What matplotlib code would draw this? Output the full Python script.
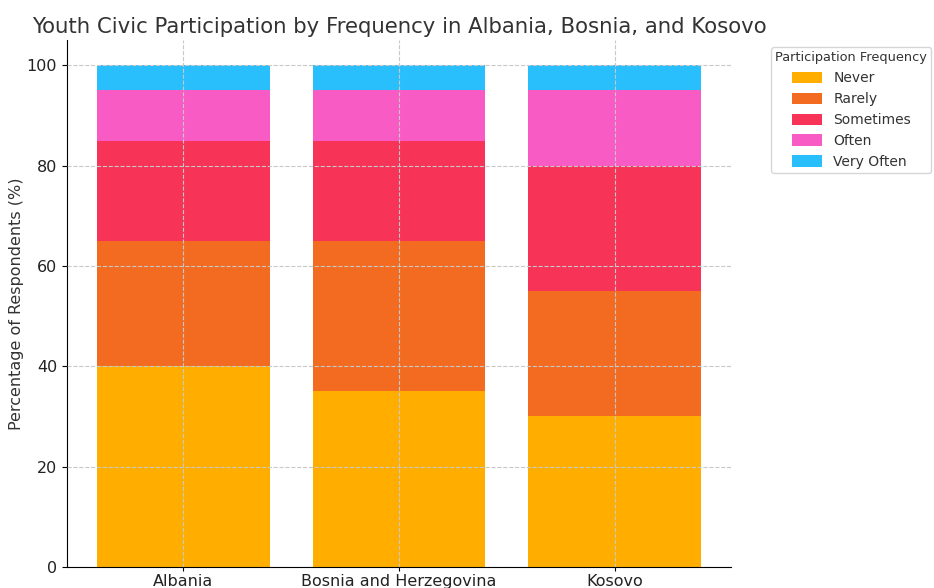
import numpy as np
import matplotlib
matplotlib.use("Agg")
import matplotlib.pyplot as plt

countries = ["Albania", "Bosnia and Herzegovina", "Kosovo"]
levels = ["Never", "Rarely", "Sometimes", "Often", "Very Often"]
never = [40, 35, 30]
rarely = [25, 30, 25]
sometimes = [20, 20, 25]
often = [10, 10, 15]
very_often = [5, 5, 5]
colors = ["#FFAE00", "#F26B21", "#F73357", "#F95BC4", "#29BFFD"]

fig = plt.figure(figsize=(9.34, 5.88), dpi=100)
ax = fig.add_axes([0.0717, 0.0357, 0.711, 0.896])

x = np.arange(len(countries))
bottom = np.zeros(len(countries))
for name, vals, c in zip(levels, [never, rarely, sometimes, often, very_often], colors):
    ax.bar(x, vals, 0.8, bottom=bottom, color=c, label=name)
    bottom += np.array(vals)

ax.set_xticks(x)
ax.set_xticklabels(countries, fontsize=11.5, color="#222222")
ax.tick_params(axis="x", pad=2, length=3)
ax.set_ylim(0, 105)
ax.set_yticks([0, 20, 40, 60, 80, 100])
ax.tick_params(axis="y", labelsize=11.5, labelcolor="#222222")
ax.set_ylabel("Percentage of Respondents (%)", fontsize=11.5, color="#333333", labelpad=2)
ax.set_title("Youth Civic Participation by Frequency in Albania, Bosnia, and Kosovo",
             fontsize=15.3, color="#333333", pad=5)
ax.grid(True, linestyle="--", color="#c8c8c8", linewidth=0.8)
ax.set_axisbelow(False)
for s in ["top", "right"]:
    ax.spines[s].set_visible(False)

leg = ax.legend(title="Participation Frequency", loc="upper left",
                bbox_to_anchor=(1.05, 1.0), fontsize=10, title_fontsize=9.3,
                frameon=True, handlelength=2.2, handleheight=0.9,
                borderpad=0.3)
for t in leg.get_texts():
    t.set_color("#333333")
leg.get_title().set_color("#333333")

fig.savefig("out.png", dpi=100)
